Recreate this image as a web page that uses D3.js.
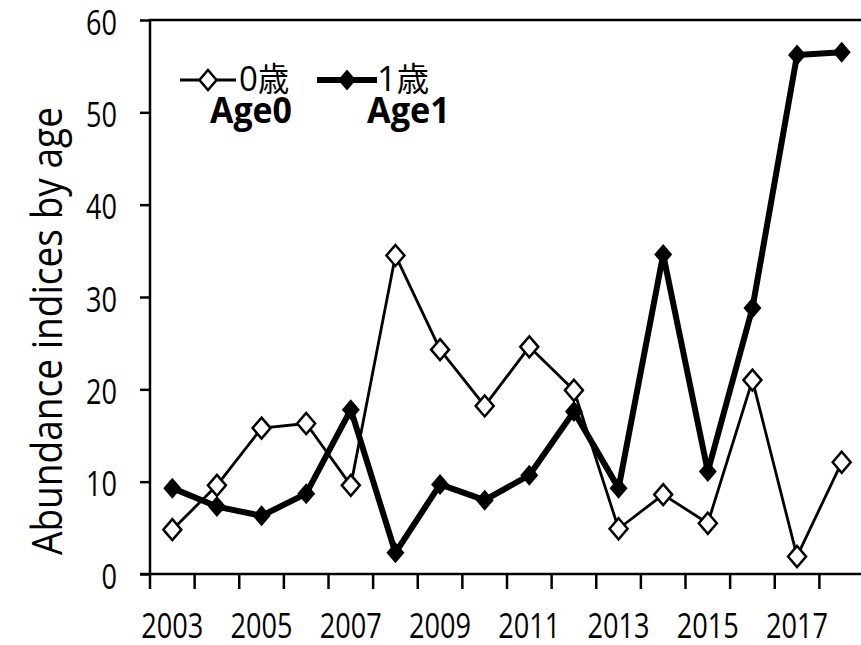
<!DOCTYPE html>
<html>
<head>
<meta charset="utf-8">
<script src="https://cdn.jsdelivr.net/npm/d3@7"></script>
<style>
  body { margin: 0; background: #fff; }
  text { font-family: "Open Sans", sans-serif; fill: #000; }
</style>
</head>
<body>
<script>
var width = 861;
var height = 645;

// data
var years = ["2003", "2004", "2005", "2006", "2007", "2008", "2009", "2010",
             "2011", "2012", "2013", "2014", "2015", "2016", "2017", "2018"];
var age0 = [4.8, 9.6, 15.8, 16.3, 9.6, 34.5, 24.3, 18.2, 24.6, 19.9, 4.9, 8.6, 5.5, 21.0, 1.9, 12.1];
var age1 = [9.3, 7.3, 6.3, 8.7, 17.8, 2.3, 9.7, 8.0, 10.7, 17.6, 9.3, 34.6, 11.1, 28.8, 56.2, 56.5];
var yTicks = [0, 10, 20, 30, 40, 50, 60];
var xLabels = ["2003", "2005", "2007", "2009", "2011", "2013", "2015", "2017"];

// plot box (right edge runs past the window like in the picture)
var plot = {left: 150, top: 20, bottom: 574, right: 864};

var svg = d3.select("body").append("svg")
    .attr("width", width)
    .attr("height", height);

var x = d3.scaleBand().domain(years).range([plot.left, plot.right]);
var y = d3.scaleLinear().domain([0, 60]).range([plot.bottom, plot.top]);
var cx = function(d, i) { return x(years[i]) + x.bandwidth() / 2; };

// diamond marker path
function diamond(rx, ry) {
  return "M0," + (-ry) + "L" + rx + ",0L0," + ry + "L" + (-rx) + ",0Z";
}

// frame
svg.append("rect")
    .attr("x", plot.left).attr("y", plot.top)
    .attr("width", plot.right - plot.left).attr("height", plot.bottom - plot.top)
    .attr("fill", "none").attr("stroke", "#000").attr("stroke-width", 2.5);

// y axis
var yAxis = svg.append("g")
    .attr("transform", "translate(" + plot.left + ",0)")
    .call(d3.axisLeft(y).tickValues(yTicks).tickSize(10).tickPadding(23));
yAxis.select(".domain").remove();
yAxis.selectAll("line").attr("stroke-width", 2.5);
yAxis.selectAll("text")
    .attr("font-family", "Open Sans").attr("font-size", 35)
    .attr("dy", "14px")
    .attr("textLength", function(d) { return String(d).length * 15.5; })
    .attr("lengthAdjust", "spacingAndGlyphs");

// x axis: ticks at category edges, labels every other year
var edges = years.concat(["end"]);
svg.append("g").selectAll("line")
    .data(edges)
  .enter().append("line")
    .attr("x1", function(d, i) { return i < years.length ? x(d) : plot.right; })
    .attr("x2", function(d, i) { return i < years.length ? x(d) : plot.right; })
    .attr("y1", plot.bottom).attr("y2", plot.bottom + 15)
    .attr("stroke", "#000").attr("stroke-width", 2.5);
svg.append("line")
    .attr("x1", plot.left - 10).attr("x2", plot.left)
    .attr("y1", plot.bottom).attr("y2", plot.bottom)
    .attr("stroke", "#000").attr("stroke-width", 2.5);

svg.append("g").selectAll("text")
    .data(xLabels)
  .enter().append("text")
    .attr("x", function(d) { return x(d) + x.bandwidth() / 2; })
    .attr("y", 638)
    .attr("text-anchor", "middle")
    .attr("font-size", 35)
    .attr("textLength", 62)
    .attr("lengthAdjust", "spacingAndGlyphs")
    .text(function(d) { return d; });

// axis title
svg.append("text")
    .attr("transform", "translate(62,331) rotate(-90)")
    .attr("text-anchor", "middle")
    .attr("font-size", 42)
    .attr("textLength", 448)
    .attr("lengthAdjust", "spacingAndGlyphs")
    .text("Abundance indices by age");

// series
var line = d3.line()
    .x(cx)
    .y(function(d) { return y(d); });

svg.append("path")
    .datum(age0)
    .attr("d", line)
    .attr("fill", "none").attr("stroke", "#000").attr("stroke-width", 2.8)
    .attr("stroke-linejoin", "round");
svg.append("g").selectAll("path")
    .data(age0)
  .enter().append("path")
    .attr("transform", function(d, i) { return "translate(" + cx(d, i) + "," + y(d) + ")"; })
    .attr("d", diamond(9, 10.5))
    .attr("fill", "#fff").attr("stroke", "#000").attr("stroke-width", 2.5);

svg.append("path")
    .datum(age1)
    .attr("d", line)
    .attr("fill", "none").attr("stroke", "#000").attr("stroke-width", 6)
    .attr("stroke-linejoin", "round");
svg.append("g").selectAll("path")
    .data(age1)
  .enter().append("path")
    .attr("transform", function(d, i) { return "translate(" + cx(d, i) + "," + y(d) + ")"; })
    .attr("d", diamond(9, 10.5))
    .attr("fill", "#000");

// legend
var legend = svg.append("g");
legend.append("line")
    .attr("x1", 180).attr("x2", 236).attr("y1", 80).attr("y2", 80)
    .attr("stroke", "#000").attr("stroke-width", 3);
legend.append("path")
    .attr("transform", "translate(208,80)")
    .attr("d", diamond(8.5, 10))
    .attr("fill", "#fff").attr("stroke", "#000").attr("stroke-width", 2.5);
legend.append("line")
    .attr("x1", 317).attr("x2", 377).attr("y1", 80).attr("y2", 80)
    .attr("stroke", "#000").attr("stroke-width", 6);
legend.append("path")
    .attr("transform", "translate(347,80)")
    .attr("d", diamond(9, 10.5))
    .attr("fill", "#000");

var lab0 = legend.append("text").attr("x", 239).attr("y", 91)
    .attr("textLength", 50).attr("lengthAdjust", "spacingAndGlyphs");
lab0.append("tspan").attr("font-size", 35).text("0");
lab0.append("tspan").attr("font-family", "Noto Sans CJK JP").attr("font-size", 33).text("歳");

var lab1 = legend.append("text").attr("x", 377).attr("y", 91)
    .attr("textLength", 52).attr("lengthAdjust", "spacingAndGlyphs");
lab1.append("tspan").attr("font-size", 35).text("1");
lab1.append("tspan").attr("font-family", "Noto Sans CJK JP").attr("font-size", 33).text("歳");

legend.append("text").attr("x", 210).attr("y", 123)
    .attr("font-size", 35).attr("font-weight", "bold")
    .attr("textLength", 82).attr("lengthAdjust", "spacingAndGlyphs")
    .text("Age0");
legend.append("text").attr("x", 367).attr("y", 123)
    .attr("font-size", 35).attr("font-weight", "bold")
    .attr("textLength", 83).attr("lengthAdjust", "spacingAndGlyphs")
    .text("Age1");
</script>
</body>
</html>
